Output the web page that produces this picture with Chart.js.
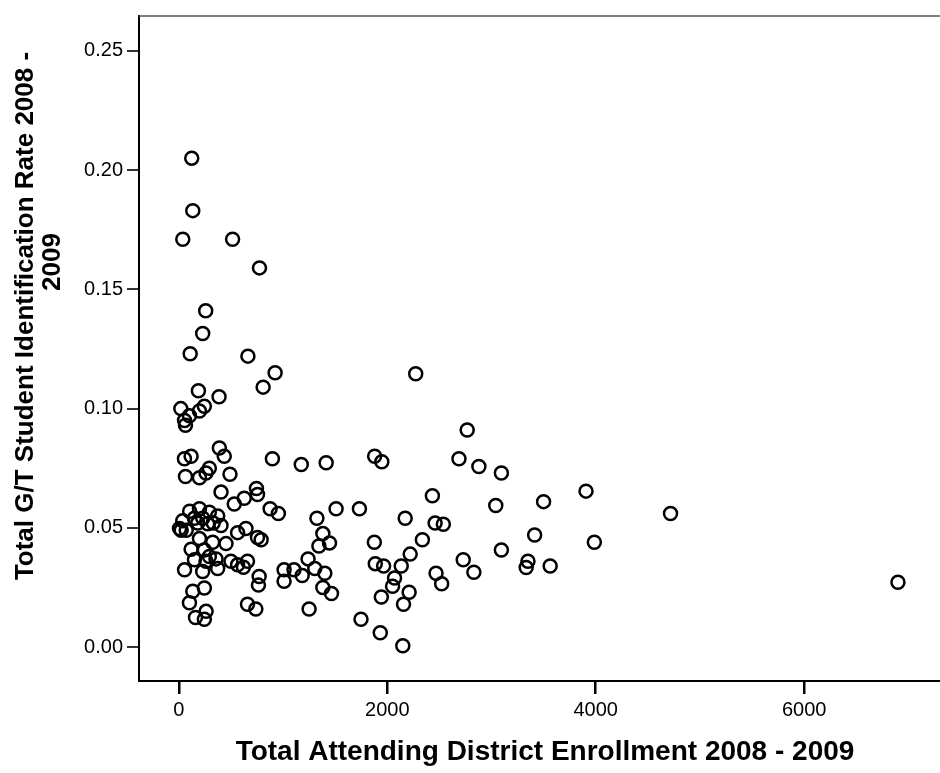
<!DOCTYPE html>
<html>
<head>
<meta charset="utf-8">
<script src="https://cdn.jsdelivr.net/npm/chart.js@4/dist/chart.umd.min.js"></script>
<style>
  html, body { margin: 0; padding: 0; background: #fff; overflow: hidden; }
  #wrap { width: 960px; height: 773px; }
</style>
</head>
<body>
<div id="wrap"><canvas id="scatter" width="960" height="773"></canvas></div>
<script>
// Total attending district enrollment (x) and G/T identification rate (y)
const enrollment = [
  124, 134, 38, 516, 774, 258, 229, 109, 663, 924, 809, 188, 386, 19, 245, 198, 102, 55, 64,
  389, 54, 118, 436, 293, 261, 491, 64, 198, 898, 1175, 405, 532, 628, 745, 755, 876, 955,
  104, 198, 293, 373, 405, 38, 7, 71, 182, 277, 150, 230, 330, 23, 198, 325, 453, 564, 644,
  755, 790, 118, 245, 150, 261, 357, 293, 373, 55, 229, 500, 564, 659, 620, 771, 764, 134,
  245, 102, 659, 739, 160, 262, 245, 1010, 1010, 1105, 1184, 1240, 1305, 1250,
  1325, 1414, 1509, 1733, 1382, 1446, 1344, 1401, 1382, 1465, 1748, 1879, 1948, 1876,
  1885, 1965, 1943, 1933, 2070, 2051, 2134, 2156, 2149, 2172, 2210, 2220, 2273, 2337,
  2433, 2459, 2538, 2468, 2522, 2688, 2729, 2767, 2831, 2879, 3041, 3095, 3095, 3350,
  3333, 3414, 3500, 3563, 3907, 3987, 4718, 6900
];
const idRate = [
  0.205, 0.183, 0.171, 0.171, 0.159, 0.141, 0.1315, 0.123, 0.122, 0.115, 0.109, 0.1075, 0.105, 0.100, 0.101, 0.099, 0.097, 0.095, 0.093,
  0.0835, 0.079, 0.080, 0.080, 0.075, 0.073, 0.0725, 0.0715, 0.071, 0.079, 0.0766, 0.065, 0.060, 0.0624, 0.0665, 0.064, 0.058, 0.056,
  0.057, 0.058, 0.0566, 0.055, 0.051, 0.053, 0.0497, 0.049, 0.052, 0.0517, 0.054, 0.054, 0.052, 0.049, 0.0455, 0.044, 0.0434, 0.048, 0.0497,
  0.046, 0.045, 0.041, 0.0407, 0.0366, 0.036, 0.037, 0.038, 0.033, 0.0324, 0.0317, 0.036, 0.0345, 0.036, 0.0335, 0.0296, 0.026, 0.0234,
  0.0248, 0.0186, 0.018, 0.016, 0.0124, 0.015, 0.0117, 0.0324, 0.0276, 0.0324, 0.030, 0.037, 0.033, 0.016,
  0.054, 0.0773, 0.058, 0.058, 0.0476, 0.0437, 0.0424, 0.031, 0.025, 0.0225, 0.0117, 0.080, 0.0777, 0.044,
  0.035, 0.034, 0.021, 0.006, 0.029, 0.0255, 0.034, 0.018, 0.0006, 0.054, 0.023, 0.039, 0.1146, 0.045,
  0.0635, 0.052, 0.0515, 0.031, 0.0266, 0.079, 0.0366, 0.091, 0.0314, 0.0757, 0.0594, 0.073, 0.0407, 0.036,
  0.0334, 0.047, 0.061, 0.034, 0.0654, 0.044, 0.056, 0.0272
];

const xTickValues = [0, 2000, 4000, 6000];
const yTickValues = [0, 0.05, 0.10, 0.15, 0.20, 0.25];
const yTickLabels = ['0.00', '0.05', '0.10', '0.15', '0.20', '0.25'];

const xTitle = 'Total Attending District Enrollment 2008 - 2009';
const yTitleLines = ['Total G/T Student Identification Rate 2008 -', '2009'];

const FONT = "'Liberation Sans', Arial, sans-serif";

// y title drawn by hand: SPSS puts the two lines off-centre from each other
const yTitlePlugin = {
  id: 'yTitle',
  afterDraw(chart) {
    const c = chart.ctx;
    const spots = [[26, 316], [53, 262]];
    c.save();
    c.fillStyle = '#000';
    c.font = 'bold 26px ' + FONT;
    c.textAlign = 'center';
    c.textBaseline = 'middle';
    yTitleLines.forEach((txt, i) => {
      c.save();
      c.translate(spots[i][0], spots[i][1]);
      c.rotate(-Math.PI / 2);
      c.fillText(txt, 0, 0);
      c.restore();
    });
    c.restore();
  }
};

// thin top/right frame of the plot box
const framePlugin = {
  id: 'frame',
  beforeDatasetsDraw(chart) {
    const a = chart.chartArea;
    const c = chart.ctx;
    c.save();
    c.strokeStyle = '#555';
    c.lineWidth = 1.5;
    c.beginPath();
    c.moveTo(a.left, a.top);
    c.lineTo(a.right, a.top);
    c.lineTo(a.right, a.bottom);
    c.stroke();
    c.restore();
  }
};

new Chart(document.getElementById('scatter'), {
  type: 'scatter',
  data: {
    datasets: [{
      data: enrollment.map((x, i) => ({ x: x, y: idRate[i] })),
      pointStyle: 'circle',
      pointRadius: 6.5,
      pointHoverRadius: 6.5,
      borderWidth: 2.5,
      borderColor: '#000',
      backgroundColor: 'rgba(0,0,0,0)'
    }]
  },
  options: {
    responsive: false,
    animation: false,
    events: [],
    layout: { padding: { top: 8, right: 5, left: 0, bottom: 0 } },
    plugins: {
      legend: { display: false },
      tooltip: { enabled: false }
    },
    scales: {
      x: {
        type: 'linear',
        min: -382,
        max: 7409,
        afterBuildTicks: (s) => { s.ticks = xTickValues.map(v => ({ value: v })); },
        afterFit: (s) => { s.height = 92; },
        border: { color: '#000', width: 2 },
        grid: { drawOnChartArea: false, drawTicks: true, tickLength: 13, color: '#000', lineWidth: 2.5 },
        ticks: {
          color: '#000',
          padding: 4,
          maxRotation: 0,
          font: { family: FONT, size: 20 },
          callback: (v) => String(v)
        },
        title: {
          display: true,
          text: xTitle,
          color: '#000',
          padding: { top: 0, bottom: 4 },
          font: { family: FONT, size: 28, weight: 'bold' }
        }
      },
      y: {
        type: 'linear',
        min: -0.0142,
        max: 0.2646,
        afterBuildTicks: (s) => { s.ticks = yTickValues.map(v => ({ value: v })); },
        afterFit: (s) => { s.width = 139; },
        border: { color: '#000', width: 2 },
        grid: { drawOnChartArea: false, drawTicks: true, tickLength: 12, color: '#333', lineWidth: 2 },
        ticks: {
          color: '#000',
          padding: 4,
          font: { family: FONT, size: 20 },
          callback: (v) => yTickLabels[yTickValues.indexOf(v)] ?? ''
        }
      }
    }
  },
  plugins: [framePlugin, yTitlePlugin]
});
</script>
</body>
</html>
